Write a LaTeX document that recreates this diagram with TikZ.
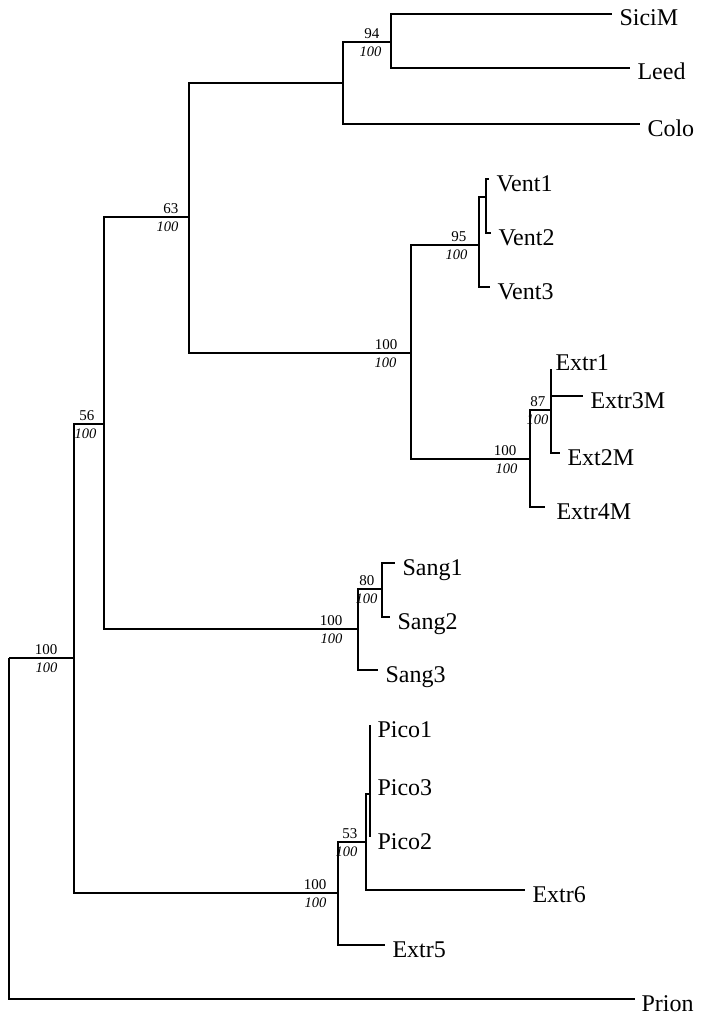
\documentclass[tikz,border=0pt]{standalone}
\usepackage{fontspec}
\setmainfont{Liberation Serif}
\usetikzlibrary{positioning}

\begin{document}
\begin{tikzpicture}[x=1pt, y=-1pt, line width=1.1pt,
      leaf/.style={anchor=west, inner xsep=7pt, inner ysep=0pt, text height=24pt, text depth=0pt, font=\fontsize{24}{28}\selectfont},
      bs/.style={inner sep=0pt, font=\fontsize{15}{17}\selectfont},
      bsi/.style={inner sep=0pt, font=\fontsize{14.5}{17}\selectfont\itshape}]
    \useasboundingbox (0,0) rectangle (701,1014);
    \coordinate (root) at (9,658);
    \coordinate (n100a) at (74,658);
    \coordinate (n56) at (104,424);
    \coordinate (n63) at (189,217);
    \coordinate (nscl) at (343,83);
    \coordinate (n94) at (391,42);
    \coordinate (n100v) at (411,353);
    \coordinate (n95) at (479,245);
    \coordinate (nvent) at (486,197);
    \coordinate (n100x) at (530,459);
    \coordinate (n87) at (551,410);
    \coordinate (n100s) at (358,629);
    \coordinate (n80) at (382,589);
    \coordinate (n100e) at (338,893);
    \coordinate (n53) at (366,842);
    \coordinate (npico) at (370,794);
    \node[leaf] (sici) at (612,14) {SiciM};
    \node[leaf] (leed) at (630,68) {Leed};
    \node[leaf] (colo) at (640,124) {Colo};
    \node[leaf] (vent1) at (489,179) {Vent1};
    \node[leaf] (vent2) at (491,233) {Vent2};
    \node[leaf] (vent3) at (490,287) {Vent3};
    \node[leaf, inner xsep=4pt] (extr1) at (551,369) {\raisebox{11pt}{Extr1}};
    \node[leaf] (extr3m) at (583,396) {Extr3M};
    \node[leaf] (ext2m) at (560,453) {Ext2M};
    \node[leaf, inner xsep=11pt] (extr4m) at (545,507) {Extr4M};
    \node[leaf] (sang1) at (395,563) {Sang1};
    \node[leaf] (sang2) at (390,617) {Sang2};
    \node[leaf] (sang3) at (378,670) {Sang3};
    \node[leaf] (pico1) at (370,725) {Pico1};
    \node[leaf] (pico3) at (370,783) {Pico3};
    \node[leaf] (pico2) at (370,837) {Pico2};
    \node[leaf] (extr6) at (525,890) {Extr6};
    \node[leaf] (extr5) at (385,945) {Extr5};
    \node[leaf, inner xsep=6pt] (prion) at (635,999) {Prion};
    \foreach \p/\c in {root/n100a, root/prion, n100a/n56, n100a/n100e, n56/n63, n56/n100s,
        n63/nscl, n63/n100v, nscl/n94, nscl/colo, n94/sici, n94/leed,
        n100v/n95, n100v/n100x, n95/nvent, n95/vent3, nvent/vent1, nvent/vent2,
        n100x/n87, n100x/extr4m, n87/extr1, n87/extr3m, n87/ext2m,
        n100s/n80, n100s/sang3, n80/sang1, n80/sang2,
        n100e/n53, n100e/extr5, n53/npico, n53/extr6, npico/pico1, npico/pico3, npico/pico2}
      \draw (\p) |- (\c);
    \node[bs, above left=3pt and 11pt of n94] (b94) {94};
    \node[bsi, below left=4pt and 9pt of n94] (b94i) {100};
    \node[bs, above left=3pt and 10pt of n63] (b63) {63};
    \node[bsi, below left=4pt and 10pt of n63] (b63i) {100};
    \node[bs, above left=3pt and 9pt of n56] (b56) {56};
    \node[bsi, below left=4pt and 7pt of n56] (b56i) {100};
    \node[bs, above left=3pt and 16pt of n100a] (b100a) {100};
    \node[bsi, below left=4pt and 16pt of n100a] (b100ai) {100};
    \node[bs, above left=3pt and 13pt of n100v] (b100v) {100};
    \node[bsi, below left=4pt and 14pt of n100v] (b100vi) {100};
    \node[bs, above left=3pt and 12pt of n95] (b95) {95};
    \node[bsi, below left=4pt and 11pt of n95] (b95i) {100};
    \node[bs, above left=3pt and 13pt of n100x] (b100x) {100};
    \node[bsi, below left=4pt and 12pt of n100x] (b100xi) {100};
    \node[bs, above left=3pt and 5pt of n87] (b87) {87};
    \node[bsi, below left=4pt and 2pt of n87] (b87i) {100};
    \node[bs, above left=3pt and 7pt of n80] (b80) {80};
    \node[bsi, below left=4pt and 4pt of n80] (b80i) {100};
    \node[bs, above left=3pt and 15pt of n100s] (b100s) {100};
    \node[bsi, below left=4pt and 15pt of n100s] (b100si) {100};
    \node[bs, above left=3pt and 8pt of n53] (b53) {53};
    \node[bsi, below left=4pt and 8pt of n53] (b53i) {100};
    \node[bs, above left=3pt and 11pt of n100e] (b100e) {100};
    \node[bsi, below left=4pt and 11pt of n100e] (b100ei) {100};
  \end{tikzpicture}
\end{document}
